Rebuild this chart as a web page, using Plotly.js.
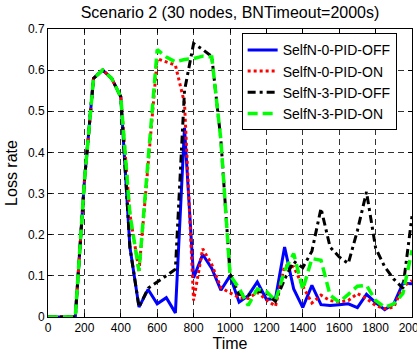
<!DOCTYPE html>
<html>
<head>
<meta charset="utf-8">
<script src="https://cdn.plot.ly/plotly-3.0.1.min.js"></script>
<style>
html, body { margin: 0; padding: 0; background: #fff; }
#chart { width: 417px; height: 356px; }
</style>
</head>
<body>
<div id="chart"></div>
<script>
var time = [0, 50, 100, 150, 200, 250, 300, 350, 400, 450, 500, 550, 600, 650, 700, 750, 800, 850, 900, 950,
            1000, 1050, 1100, 1150, 1200, 1250, 1300, 1350, 1400, 1450, 1500, 1550, 1600, 1650, 1700, 1750,
            1800, 1850, 1900, 1950, 2000];

var selfN0PidOff = [0, 0, 0, 0, 0.33, 0.58, 0.60, 0.58, 0.535, 0.17, 0.024, 0.067, 0.032, 0.047, 0.01, 0.46, 0.095, 0.152, 0.118, 0.065,
                    0.10, 0.036, 0.052, 0.085, 0.043, 0.045, 0.17, 0.068, 0.023, 0.077, 0.03, 0.028, 0.03, 0.032, 0.023, 0.055,
                    0.035, 0.018, 0.032, 0.082, 0.081];

var selfN0PidOn = [0, 0, 0, 0, 0.33, 0.58, 0.60, 0.58, 0.535, 0.25, 0.112, 0.375, 0.628, 0.62, 0.612, 0.52, 0.04, 0.166, 0.127, 0.071,
                   0.06, 0.047, 0.045, 0.06, 0.042, 0.026, 0.125, 0.122, 0.075, 0.034, 0.053, 0.04, 0.036, 0.04, 0.057, 0.045,
                   0.028, 0.02, 0.024, 0.073, 0.089];

var selfN3PidOff = [0, 0, 0, 0, 0.33, 0.58, 0.60, 0.58, 0.535, 0.17, 0.024, 0.07, 0.085, 0.10, 0.116, 0.55, 0.665, 0.65, 0.633, 0.43,
                    0.105, 0.055, 0.053, 0.063, 0.058, 0.038, 0.092, 0.135, 0.12, 0.16, 0.264, 0.17, 0.146, 0.13, 0.21, 0.304,
                    0.168, 0.122, 0.092, 0.07, 0.245];

var selfN3PidOn = [0, 0, 0, 0, 0.33, 0.58, 0.60, 0.58, 0.535, 0.25, 0.112, 0.375, 0.65, 0.632, 0.62, 0.626, 0.628, 0.634, 0.632, 0.43,
                   0.102, 0.07, 0.028, 0.068, 0.062, 0.04, 0.112, 0.154, 0.067, 0.142, 0.138, 0.053, 0.036, 0.055, 0.075, 0.077,
                   0.04, 0.024, 0.032, 0.057, 0.162];

var seriesNames = ['SelfN-0-PID-OFF', 'SelfN-0-PID-ON', 'SelfN-3-PID-OFF', 'SelfN-3-PID-ON'];
var xTicks = [0, 200, 400, 600, 800, 1000, 1200, 1400, 1600, 1800, 2000];
var yTicks = [0, 0.1, 0.2, 0.3, 0.4, 0.5, 0.6, 0.7];

var font = 'Liberation Sans, Arial, Helvetica, sans-serif';

var traces = [
  {x: time, y: selfN0PidOff, name: seriesNames[0], mode: 'lines',
   line: {color: '#0000ff', width: 3}},
  {x: time, y: selfN0PidOn, name: seriesNames[1], mode: 'lines',
   line: {color: '#ff0000', width: 3, dash: '3px,3px'}},
  {x: time, y: selfN3PidOff, name: seriesNames[2], mode: 'lines',
   line: {color: '#000000', width: 3, dash: '8px,4px,3px,4px'}},
  {x: time, y: selfN3PidOn, name: seriesNames[3], mode: 'lines',
   line: {color: '#00ff00', width: 3.5, dash: '10px,5px'}}
];

var axisCommon = {
  showline: true, linecolor: '#000', linewidth: 1, mirror: 'allticks',
  ticks: 'inside', ticklen: 4, tickcolor: '#000', tickwidth: 1,
  showgrid: true, gridcolor: '#333', gridwidth: 1, griddash: '6px,4px',
  zeroline: false, ticklabeloverflow: 'allow',
  tickfont: {family: font, size: 12, color: '#000'}
};

var layout = {
  width: 417, height: 356,
  margin: {l: 48, r: 5, t: 29, b: 39},
  paper_bgcolor: '#fff', plot_bgcolor: '#fff',
  font: {family: font, color: '#000'},
  title: {text: 'Scenario 2 (30 nodes, BNTimeout=2000s)', font: {family: font, size: 16, color: '#000'},
          x: 0.5, xref: 'paper', xanchor: 'center', y: 0.965, yref: 'container', yanchor: 'middle'},
  xaxis: Object.assign({}, axisCommon, {
    range: [0, 2000], tickvals: xTicks, ticktext: xTicks.map(String),
    title: {text: 'Time', font: {family: font, size: 16, color: '#000'}, standoff: 2}
  }),
  yaxis: Object.assign({}, axisCommon, {
    range: [0, 0.7], tickvals: yTicks, ticktext: yTicks.map(function (v) { return v === 0 ? '0' : v.toFixed(1); }),
    title: {text: 'Loss rate', font: {family: font, size: 16, color: '#000'}, standoff: 6}
  }),
  showlegend: true,
  legend: {x: 0.532, y: 0.985, xanchor: 'left', yanchor: 'top',
           bgcolor: '#fff', bordercolor: '#000', borderwidth: 1,
           font: {family: font, size: 14, color: '#000'}, tracegroupgap: 0, itemwidth: 30}
};

Plotly.newPlot('chart', traces, layout, {staticPlot: true, displayModeBar: false});
</script>
</body>
</html>
